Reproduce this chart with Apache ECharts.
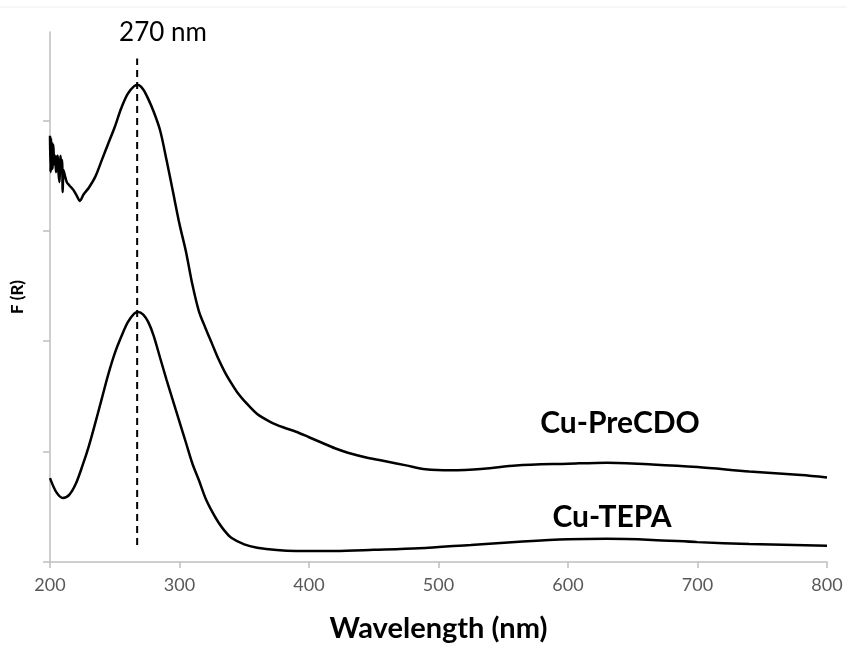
<!DOCTYPE html>
<html>
<head>
<meta charset="utf-8">
<script src="https://cdn.jsdelivr.net/npm/echarts@6/dist/echarts.min.js"></script>
<style>
html, body { margin: 0; padding: 0; background: #fff; }
#chart { width: 847px; height: 648px; }
</style>
</head>
<body>
<div id="chart"></div>
<script>
// Cu-PreCDO spectrum (wavelength nm / F(R), arbitrary units)
var preWl = [200, 200.4, 200.8, 201.2, 201.6, 202, 202.6, 203.2, 204, 204.6, 205.4, 206, 206.6, 207.4, 208, 208.6, 209.3, 209.8, 210.4, 211.5,
  213, 215, 218, 221, 223, 226, 230, 235, 240, 245, 250, 255, 260, 265, 268, 272, 276, 280, 285, 290, 295, 300, 305, 310, 315, 320,
  325, 330, 335, 340, 345, 350, 360, 370, 380, 390, 400, 410, 420, 430, 445, 460, 475, 490, 510, 535, 560, 600, 630, 665, 700, 740, 780, 800];
var preF = [3.86, 3.53, 3.84, 3.55, 3.80, 3.56, 3.78, 3.60, 3.68, 3.53, 3.66, 3.68, 3.52, 3.44, 3.68, 3.62, 3.64, 3.35, 3.55, 3.50,
  3.44, 3.41, 3.37, 3.31, 3.27, 3.33, 3.39, 3.49, 3.64, 3.79, 3.94, 4.11, 4.24, 4.31, 4.32, 4.28, 4.19, 4.08, 3.91, 3.64, 3.35, 3.06, 2.81, 2.51, 2.27, 2.12,
  1.98, 1.84, 1.72, 1.62, 1.53, 1.46, 1.34, 1.27, 1.22, 1.18, 1.13, 1.08, 1.03, 0.99, 0.945, 0.91, 0.875, 0.84, 0.83, 0.845, 0.875, 0.89, 0.90, 0.884, 0.86, 0.82, 0.787, 0.766];

// Cu-TEPA spectrum
var tepaWl = [200, 205, 210, 215, 220, 225, 230, 235, 240, 245, 250, 255, 260, 265, 268, 272, 276, 280, 285, 290, 295, 300, 305, 310,
  315, 320, 325, 330, 335, 340, 350, 360, 375, 390, 420, 450, 485, 525, 565, 600, 630, 665, 700, 740, 800];
var tepaF = [0.76, 0.63, 0.58, 0.61, 0.71, 0.87, 1.05, 1.26, 1.48, 1.70, 1.89, 2.04, 2.17, 2.25, 2.265, 2.24, 2.17, 2.05, 1.85, 1.65, 1.46, 1.27, 1.08, 0.89,
  0.74, 0.58, 0.46, 0.36, 0.28, 0.22, 0.16, 0.13, 0.108, 0.10, 0.10, 0.11, 0.124, 0.155, 0.185, 0.205, 0.21, 0.20, 0.18, 0.163, 0.148];

// peak marker
var peakWl = 267.3;
var peakLineF = [0.154, 4.56];

var yTicks = [0, 1, 2, 3, 4];

function pairs(xs, ys) {
  var out = [];
  for (var i = 0; i < xs.length; i++) out.push([xs[i], ys[i]]);
  return out;
}

var chart = echarts.init(document.getElementById('chart'));

var option = {
  animation: false,
  backgroundColor: '#fff',
  grid: { left: 50, right: 20, top: 32, bottom: 86, containLabel: false, outerBoundsMode: 'none' },
  xAxis: {
    type: 'value',
    min: 200,
    max: 800,
    interval: 100,
    name: 'Wavelength (nm)',
    nameLocation: 'middle',
    nameGap: 52,
    nameTextStyle: { fontFamily: 'Lato', fontWeight: 'bold', fontSize: 29, color: '#000' },
    axisLine: { show: true, lineStyle: { color: '#bfbfbf', width: 1.5 } },
    axisTick: { show: true, length: 6, lineStyle: { color: '#bfbfbf', width: 1.5 } },
    axisLabel: { fontFamily: 'Lato', fontSize: 18, color: '#595959', margin: 14 },
    splitLine: { show: false }
  },
  yAxis: {
    type: 'value',
    min: 0,
    max: 4.8,
    interval: 1,
    name: 'F (R)',
    nameLocation: 'middle',
    nameRotate: 90,
    nameGap: 24,
    nameTextStyle: { fontFamily: 'Lato', fontWeight: 'bold', fontSize: 17, color: '#000' },
    axisLine: { show: true, lineStyle: { color: '#bfbfbf', width: 1.5 } },
    axisTick: { show: true, length: 7, customValues: yTicks, lineStyle: { color: '#bfbfbf', width: 1.5 } },
    axisLabel: { show: false },
    splitLine: { show: false }
  },
  series: [
    {
      name: 'Cu-PreCDO',
      type: 'line',
      data: pairs(preWl, preF),
      showSymbol: false,
      smooth: 0.3,
      lineStyle: { color: '#000', width: 2.5 },
      silent: true
    },
    {
      name: 'Cu-TEPA',
      type: 'line',
      data: pairs(tepaWl, tepaF),
      showSymbol: false,
      smooth: 0.3,
      lineStyle: { color: '#000', width: 2.5 },
      silent: true
    },
    {
      name: 'peak',
      type: 'line',
      data: [[peakWl, peakLineF[0]], [peakWl, peakLineF[1]]],
      showSymbol: false,
      lineStyle: { color: '#000', width: 2, type: [7, 5] },
      silent: true
    }
  ],
  graphic: [
    { type: 'line', shape: { x1: 0, y1: 7, x2: 847, y2: 7 }, style: { stroke: '#eeeeee', lineWidth: 1 } },
    { type: 'text', x: 163, y: 33, style: { text: '270 nm', fontFamily: 'Lato', fontSize: 26, fill: '#000', textAlign: 'center', textVerticalAlign: 'middle' } },
    { type: 'text', x: 620, y: 423, style: { text: 'Cu-PreCDO', fontFamily: 'Lato', fontWeight: 'bold', fontSize: 30, fill: '#000', textAlign: 'center', textVerticalAlign: 'middle' } },
    { type: 'text', x: 612, y: 517, style: { text: 'Cu-TEPA', fontFamily: 'Lato', fontWeight: 'bold', fontSize: 30, fill: '#000', textAlign: 'center', textVerticalAlign: 'middle' } }
  ]
};

chart.setOption(option);
</script>
</body>
</html>
